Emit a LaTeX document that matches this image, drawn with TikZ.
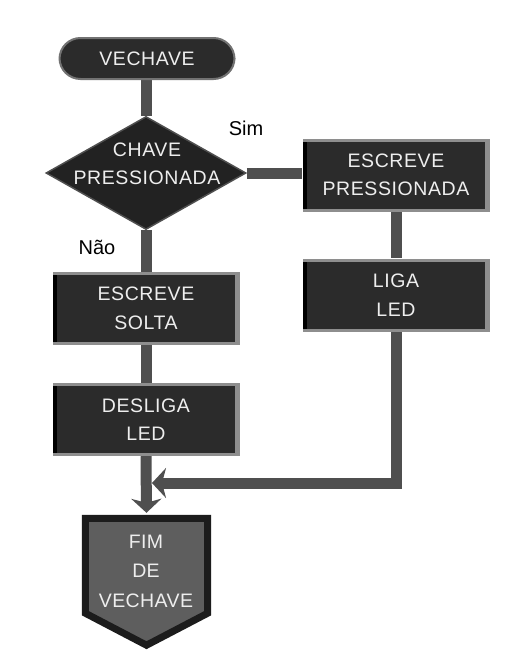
\documentclass[tikz,border=0pt]{standalone}
\usepackage{fontspec}
\setmainfont{Liberation Sans}
\usetikzlibrary{arrows.meta,backgrounds,shapes.geometric}
\definecolor{boxfill}{HTML}{2B2B2B}
\definecolor{bevel}{HTML}{8E8E8E}
\definecolor{wirec}{HTML}{4F4F4F}
\definecolor{fimfill}{HTML}{5E5E5E}
\definecolor{fimedge}{HTML}{1C1C1C}
\definecolor{txt}{HTML}{EEEEEE}
\begin{document}
\begin{tikzpicture}[x=1pt,y=-1pt,
  boxtext/.style={text=txt, font={\fontsize{19.5}{28.5}\selectfont\addfontfeature{LetterSpace=3}}, align=center, inner sep=0pt},
  procbox/.style={boxtext, rectangle, fill=bevel, minimum width=187pt, minimum height=73pt,
    path picture={
      \fill[boxfill] ([shift={(0pt,-3pt)}]path picture bounding box.north west) rectangle ([shift={(-5pt,3pt)}]path picture bounding box.south east);
      \fill[black] ([shift={(0pt,-3pt)}]path picture bounding box.north west) rectangle ([shift={(4pt,3pt)}]path picture bounding box.south west);
    }},
  termbox/.style={boxtext, rectangle, rounded corners=21pt, fill=boxfill, draw=bevel!80!black, line width=2pt, minimum width=175pt, minimum height=41pt},
  decbox/.style={diamond, fill=boxfill!80!black, draw=wirec, line width=1.5pt, minimum width=200pt, minimum height=113pt, inner sep=0pt},
  labeltext/.style={font={\fontsize{20}{24}\selectfont}, text=black, inner sep=0pt},
  wire/.style={draw=wirec, line width=11pt, line join=miter},
  bigarrow/.style={wire, -{Stealth[length=14pt,width=30pt,inset=4pt]}}
]
\useasboundingbox (0,0) rectangle (520,664);

% nodes
\node[termbox] (start) at (147,58.5) {VECHAVE};
\node[decbox] (dec) at (146,173) {};
\node[boxtext] (dectxt) at (147,164) {CHAVE\\PRESSIONADA};
\node[procbox] (pres) at (396,175) {ESCREVE\\PRESSIONADA};
\node[procbox] (liga) at (396,295) {LIGA\\LED};
\node[procbox] (solta) at (146,308.5) {ESCREVE\\SOLTA};
\node[procbox] (desliga) at (146,419.5) {DESLIGA\\LED};
\node[minimum width=129pt, minimum height=98pt, inner sep=0pt] (fim) at (146.5,564) {};
\draw[fill=fimfill, draw=fimedge, line width=7pt, line join=miter]
  ([shift={(3.5pt,-3.5pt)}]fim.north west) -- ([shift={(-3.5pt,-3.5pt)}]fim.north east)
  -- ([shift={(-3.5pt,0pt)}]fim.south east) -- ([shift={(0pt,-32pt)}]fim.south)
  -- ([shift={(3.5pt,0pt)}]fim.south west) -- cycle;
\node[boxtext, font={\fontsize{19.5}{29.5}\selectfont\addfontfeature{LetterSpace=2}}] (fimtxt) at (146,571) {FIM\\DE\\VECHAVE};

\node[labeltext] (sim) at (246,128) {Sim};
\node[labeltext] (nao) at (97,247) {Não};

\coordinate (jn) at (152,483);

% connectors
\begin{scope}[on background layer]
  \fill[white] (0,0) rectangle (520,664);
  \draw[wire] (dec.north |- start.south) -- (dec.north);
  \draw[wire] (dec.east) -- (dec.east -| pres.west);
  \draw[wire] (dec.south) -- (solta.north);
  \draw[wire] (solta.south) -- (desliga.north);
  \draw[wire] (pres.south) -- (liga.north);
  \draw[bigarrow, shorten >=2pt] (desliga.south) -- (fim.north);
  \draw[bigarrow] (liga.south) -- (liga.south |- jn) -- (jn);
\end{scope}
\end{tikzpicture}
\end{document}
